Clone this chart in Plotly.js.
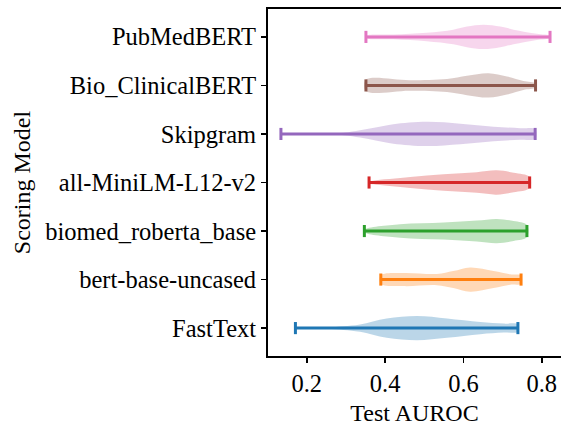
<!DOCTYPE html>
<html>
<head>
<meta charset="utf-8">
<script src="https://cdn.plot.ly/plotly-3.0.1.min.js"></script>
<style>html,body{margin:0;padding:0;background:#fff;}#chart{width:561px;height:427px;}</style>
</head>
<body>
<div id="chart"></div>
<script>
// Categories, bottom to top
const models = ["FastText", "bert-base-uncased", "biomed_roberta_base", "all-MiniLM-L12-v2", "Skipgram", "Bio_ClinicalBERT", "PubMedBERT"];
const colors = ["#1f77b4", "#ff7f0e", "#2ca02c", "#d62728", "#9467bd", "#8c564b", "#e377c2"];
// Min / max test AUROC per model
const minVals = [0.171, 0.389, 0.347, 0.359, 0.134, 0.351, 0.351];
const maxVals = [0.739, 0.747, 0.762, 0.769, 0.783, 0.784, 0.821];
// Violin outlines: AUROC positions and relative density (1 = widest)
const fastTextX = [0.171, 0.251, 0.294, 0.336, 0.404, 0.481, 0.558, 0.643, 0.702, 0.739];
const fastTextD = [0.02, 0.05, 0.15, 0.30, 0.80, 1.00, 0.80, 0.50, 0.37, 0.30];
const bertX = [0.389, 0.447, 0.532, 0.574, 0.617, 0.677, 0.719, 0.747];
const bertD = [0.34, 0.54, 0.46, 0.70, 1.00, 0.70, 0.43, 0.34];
const biomedX = [0.347, 0.438, 0.549, 0.634, 0.685, 0.728, 0.762];
const biomedD = [0.10, 0.55, 0.70, 0.86, 1.00, 0.82, 0.50];
const miniX = [0.359, 0.370, 0.464, 0.549, 0.634, 0.685, 0.728, 0.769];
const miniD = [0.08, 0.15, 0.45, 0.68, 0.85, 1.00, 0.80, 0.45];
const skipX = [0.134, 0.208, 0.294, 0.336, 0.379, 0.421, 0.506, 0.592, 0.677, 0.745, 0.783];
const skipD = [0.02, 0.03, 0.10, 0.30, 0.55, 0.80, 1.00, 0.85, 0.60, 0.47, 0.40];
const clinX = [0.351, 0.464, 0.558, 0.609, 0.664, 0.711, 0.753, 0.784];
const clinD = [0.46, 0.43, 0.54, 0.80, 1.00, 0.74, 0.37, 0.17];
const pubX = [0.351, 0.421, 0.506, 0.574, 0.609, 0.651, 0.694, 0.728, 0.787, 0.821];
const pubD = [0.10, 0.20, 0.35, 0.60, 0.85, 1.00, 0.85, 0.60, 0.25, 0.08];
const violinX = [fastTextX, bertX, biomedX, miniX, skipX, clinX, pubX];
const violinD = [fastTextD, bertD, biomedD, miniD, skipD, clinD, pubD];

const halfWidth = 0.25;   // violin width 0.5
const capHalf = 0.125;

function rgba(hex, a) {
  const r = parseInt(hex.slice(1,3),16), g = parseInt(hex.slice(3,5),16), b = parseInt(hex.slice(5,7),16);
  return `rgba(${r},${g},${b},${a})`;
}

const traces = [];
models.forEach((m, i) => {
  const pos = i + 1;
  const xs = violinX[i], ds = violinD[i];
  const upX = xs.slice(), upY = ds.map(d => pos + d * halfWidth);
  const loX = xs.slice().reverse(), loY = ds.slice().reverse().map(d => pos - d * halfWidth);
  traces.push({
    type: "scatter", mode: "lines", x: upX.concat(loX, [upX[0]]), y: upY.concat(loY, [upY[0]]),
    fill: "toself", fillcolor: rgba(colors[i], 0.3), line: {width: 0, shape: "spline", smoothing: 1},
    hoverinfo: "skip", showlegend: false
  });
});
models.forEach((m, i) => {
  const pos = i + 1;
  traces.push({
    type: "scatter", mode: "lines",
    x: [minVals[i], maxVals[i], null, minVals[i], minVals[i], null, maxVals[i], maxVals[i]],
    y: [pos, pos, null, pos - capHalf, pos + capHalf, null, pos - capHalf, pos + capHalf],
    line: {color: colors[i], width: 3}, showlegend: false, hoverinfo: "skip"
  });
});

const font = {family: "'Liberation Serif', 'Times New Roman', serif", size: 24.5, color: "#000"};
const titleFont = {family: "'Liberation Serif', 'Times New Roman', serif", size: 24, color: "#000"};
const layout = {
  width: 561, height: 427,
  margin: {l: 268, r: 0, t: 9, b: 71},
  paper_bgcolor: "#fff", plot_bgcolor: "#fff",
  font: font,
  showlegend: false,
  xaxis: {
    range: [0.101, 0.849], tickvals: [0.2, 0.4, 0.6, 0.8], ticktext: ["0.2", "0.4", "0.6", "0.8"],
    ticks: "outside", ticklen: 5, tickwidth: 1.5, tickcolor: "#000",
    showline: true, linewidth: 2, linecolor: "#000", mirror: true,
    showgrid: false, zeroline: false,
    title: {text: "Test AUROC", font: titleFont, standoff: 8}
  },
  yaxis: {
    range: [0.425, 7.575], tickvals: [1,2,3,4,5,6,7], ticktext: models,
    ticks: "outside", ticklen: 5, tickwidth: 1.5, tickcolor: "#000",
    showline: true, linewidth: 2, linecolor: "#000",
    showgrid: false, zeroline: false,
    title: {text: "Scoring Model", font: titleFont, standoff: 8}
  }
};
Plotly.newPlot("chart", traces, layout, {displayModeBar: false, staticPlot: true});
</script>
</body>
</html>
